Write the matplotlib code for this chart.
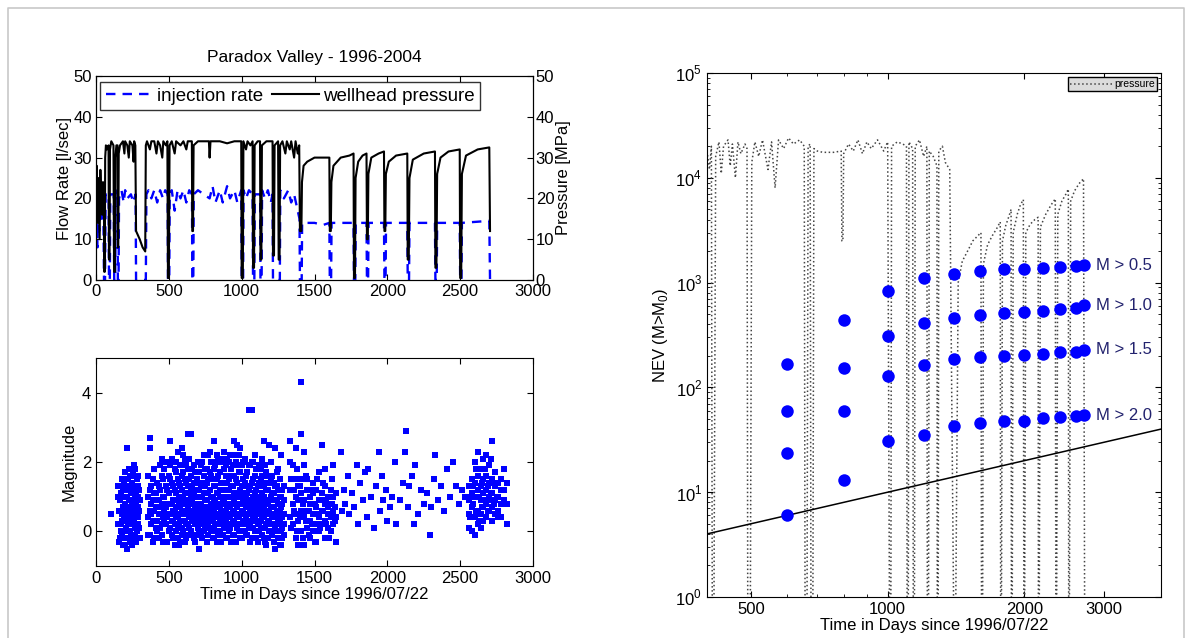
import numpy as np
import matplotlib
matplotlib.use("Agg")
import matplotlib.pyplot as plt
from matplotlib.lines import Line2D
from matplotlib.ticker import FixedLocator, NullFormatter, LogLocator

plt.rcParams['font.family'] = ['Liberation Sans', 'DejaVu Sans']
plt.rcParams['font.size'] = 12
plt.rcParams['mathtext.fontset'] = 'custom'
plt.rcParams['mathtext.rm'] = 'Liberation Sans'
plt.rcParams['xtick.direction'] = 'in'
plt.rcParams['ytick.direction'] = 'in'

# ---- wellhead pressure [MPa] (top left, black)
p_days = [0, 5, 10, 15, 20, 25, 30, 35, 42, 48, 55, 57, 60, 63, 68, 75, 86, 89, 93, 96,
          105, 120, 124, 130, 133, 140, 148, 150, 153, 156, 165, 185, 195, 200, 215, 225, 232, 250,
          258, 262, 270, 275, 300, 320, 338, 342, 350, 370, 380, 400, 415, 425, 440, 455, 462,
          480, 490, 494, 500, 505, 520, 540, 550, 580, 600, 620, 630, 658, 661, 666, 670,
          700, 775, 780, 786, 850, 900, 950, 997, 1000, 1008, 1012, 1030, 1040, 1060, 1075,
          1078, 1085, 1089, 1110, 1126, 1129, 1135, 1139, 1170, 1212, 1215, 1222, 1226, 1250,
          1254, 1260, 1264, 1280, 1300, 1310, 1330, 1340, 1360, 1370, 1385, 1395, 1400, 1410,
          1414, 1425, 1450, 1500, 1560, 1602, 1605, 1612, 1616, 1630, 1680, 1740, 1768, 1771,
          1778, 1782, 1800, 1830, 1857, 1860, 1866, 1870, 1890, 1940, 1977, 1980, 1986, 1990,
          2010, 2060, 2137, 2140, 2147, 2152, 2175, 2250, 2327, 2330, 2337, 2342, 2365, 2420,
          2497, 2500, 2507, 2512, 2540, 2620, 2700, 2705]
p_vals = [22, 28, 14, 25, 18, 10, 27, 20, 16, 24, 15, 2, 2, 30, 33, 32, 33, 5, 5, 32,
          34, 33, 2, 2, 30, 33, 33, 8, 8, 31, 33, 34, 31, 34, 33, 30, 34, 33,
          29, 34, 33, 12, 10, 8, 7, 33, 34, 32, 34, 34, 31, 34, 33, 30, 34,
          33, 34, 0.5, 0.5, 33, 34, 31, 34, 33, 34, 32, 34, 34, 12, 12, 33,
          34, 34, 30, 34, 34, 33.5, 34, 34, 0.5, 0.5, 34, 32, 34, 33, 34,
          3, 3, 33, 34, 34, 5, 5, 33, 34, 34, 6, 6, 33, 34,
          5, 5, 33, 34, 31, 34, 32, 34, 30, 34, 31, 33, 12, 12,
          24, 28, 29, 30, 30, 30, 12, 12, 24, 28, 30, 30.5, 31, 0.5,
          0.5, 25, 29, 30.5, 31, 10, 10, 26, 30, 31, 31.5, 12, 12, 26,
          29, 30.5, 31, 5, 5, 25, 29.5, 31, 31.5, 3, 3, 26, 30, 31.5,
          32, 0.5, 0.5, 26, 30.5, 32, 32.5, 12]

# ---- injection rate [l/sec] (top left, blue dashed)
q_days = [0, 5, 10, 15, 22, 30, 40, 50, 55, 62, 66, 87, 89, 95, 98, 122, 125, 132, 135, 148,
          150, 155, 158, 175, 190, 200, 215, 240, 255, 272, 275, 342, 346, 360, 380, 400, 420,
          440, 460, 475, 492, 494, 503, 506, 520, 540, 560, 580, 600, 620, 640, 659, 661, 668,
          671, 700, 740, 780, 800, 820, 850, 870, 900, 920, 950, 970, 997, 1000, 1010, 1013,
          1030, 1050, 1075, 1078, 1087, 1090, 1127, 1129, 1137, 1140, 1160, 1180, 1200, 1212,
          1215, 1262, 1265, 1290, 1320, 1340, 1360, 1385, 1397, 1400, 1412, 1415, 1500, 1560,
          1602, 1605, 1614, 1617, 1700, 1768, 1771, 1780, 1783, 1857, 1860, 1868, 1871, 1977,
          1980, 1988, 1991, 2137, 2140, 2149, 2152, 2327, 2330, 2339, 2342, 2497, 2500, 2509,
          2512, 2700, 2705]
q_vals = [10, 18, 8, 20, 12, 21, 15, 20, 0, 0, 21, 21, 0, 0, 21, 21, 0, 0, 22, 21,
          0, 0, 20, 22, 19, 22, 20, 21, 19, 21, 0, 0, 21, 22, 20, 22, 19,
          22, 20, 22, 21, 0, 0, 21, 22, 17, 22, 20, 22, 19, 22, 21, 0, 0,
          21, 22, 21, 20, 23, 19, 22, 19, 23, 20, 22, 19, 22, 0, 0, 22,
          20, 22, 21, 0, 0, 21, 21, 0, 0, 22, 20, 22, 19, 21,
          0, 0, 22, 20, 22, 19, 21, 17, 15, 0, 0, 14, 14, 13.5,
          14, 0, 0, 14, 14, 14, 0, 0, 14, 14, 0, 0, 14, 14,
          0, 0, 14, 14, 0, 0, 14, 14, 0, 0, 14, 14, 0, 0,
          14, 14.5, 0]

# ---- event magnitudes (bottom left)
m_days = [100, 150, 155, 160, 165, 170, 175, 180, 185, 190, 195, 200, 200, 205, 210, 210, 215, 215,
          220, 220, 225, 225, 230, 230, 235, 235, 240, 240, 245, 245, 250, 250, 255, 255, 260, 260,
          265, 265, 270, 270, 275, 275, 280, 280, 285, 290, 290, 295, 300, 300, 160, 170, 180, 190,
          200, 210, 220, 230, 240, 250, 260, 270, 280, 290, 185, 245, 265, 235, 175, 205,
          370, 370, 370, 370, 370, 390, 390, 390, 390, 410, 410, 410, 430, 430, 430, 430,
          450, 450, 450, 450, 450, 470, 470, 470, 470, 490, 490, 490, 490,
          510, 510, 510, 510, 510, 530, 530, 530, 530, 530, 550, 550, 550, 550, 550, 550,
          570, 570, 570, 570, 570, 570, 590, 590, 590, 590, 590, 590, 590,
          610, 610, 610, 610, 610, 610, 610, 630, 630, 630, 630, 630, 630, 630,
          650, 650, 650, 650, 650, 650, 650, 670, 670, 670, 670, 670, 670, 670,
          690, 690, 690, 690, 690, 690, 690, 710, 710, 710, 710, 710, 710, 710,
          730, 730, 730, 730, 730, 730, 730, 750, 750, 750, 750, 750, 750, 750,
          770, 770, 770, 770, 770, 770, 770, 790, 790, 790, 790, 790, 790, 790,
          810, 810, 810, 810, 810, 810, 810, 810, 830, 830, 830, 830, 830, 830, 830,
          850, 850, 850, 850, 850, 850, 850, 870, 870, 870, 870, 870, 870, 870,
          890, 890, 890, 890, 890, 890, 890, 890, 910, 910, 910, 910, 910, 910, 910,
          930, 930, 930, 930, 930, 930, 930, 950, 950, 950, 950, 950, 950, 950, 950,
          970, 970, 970, 970, 970, 970, 970, 990, 990, 990, 990, 990, 990, 990,
          1010, 1010, 1010, 1010, 1010, 1010, 1010, 1030, 1030, 1030, 1030, 1030, 1030, 1030,
          1050, 1050, 1050, 1050, 1050, 1050, 1070, 1070, 1070, 1070, 1070, 1070, 1070,
          1090, 1090, 1090, 1090, 1090, 1090, 1110, 1110, 1110, 1110, 1110, 1110,
          1130, 1130, 1130, 1130, 1130, 1130, 1150, 1150, 1150, 1150, 1150, 1150,
          1170, 1170, 1170, 1170, 1170, 1170, 1190, 1190, 1190, 1190, 1190, 1190,
          1210, 1210, 1210, 1210, 1210, 1210, 1230, 1230, 1230, 1230, 1230, 1230,
          1250, 1250, 1250, 1250, 1250, 1250, 1270, 1270, 1270, 1270, 1270, 1270,
          1290, 1290, 1290, 1290, 1290,
          1330, 1330, 1330, 1330, 1350, 1350, 1350, 1370, 1370, 1370, 1370, 1370,
          1390, 1390, 1390, 1390, 1410, 1410, 1410, 1410, 1410, 1410, 1430, 1430, 1430, 1430, 1430,
          1450, 1450, 1450, 1450, 1470, 1470, 1470, 1470, 1490, 1490, 1490, 1490,
          1510, 1510, 1510, 1510, 1530, 1530, 1530, 1530, 1550, 1550, 1550, 1550,
          1570, 1570, 1570, 1570, 1570, 1590, 1590, 1590, 1590, 1610, 1610, 1610, 1610,
          1630, 1630, 1630, 1630, 1650, 1650, 1650,
          1680, 1690, 1700, 1710, 1730, 1740, 1760, 1770, 1790, 1800, 1810, 1830, 1850, 1860,
          1870, 1890, 1910, 1920, 1940, 1950, 1960, 1970, 1990, 2000, 2020, 2030, 2050, 2060,
          2090, 2110, 2120, 2130, 2140, 2150, 2170, 2180, 2190, 2210, 2230, 2250, 2270, 2290,
          2300, 2320, 2330, 2350, 2370, 2390, 2410, 2430, 2450, 2470, 2490, 2510, 2530,
          2560, 2560, 2560, 2560, 2580, 2580, 2580, 2580, 2600, 2600, 2600, 2600, 2600,
          2620, 2620, 2620, 2620, 2620, 2640, 2640, 2640, 2640, 2640, 2660, 2660, 2660, 2660, 2660,
          2680, 2680, 2680, 2680, 2680, 2700, 2700, 2700, 2700, 2700, 2720, 2720, 2720, 2720, 2720,
          2740, 2740, 2740, 2740, 2760, 2760, 2760, 2760, 2780, 2780, 2780, 2780,
          2800, 2800, 2800, 2820, 2820, 2820]
m_vals = [0.5, 1.3, 0.6, -0.3, 0.9, 0.2, 1.1, -0.1, 0.7, 0.4, 1.4, -0.4, 0.8, 0.1, 2.4, 1.0, -0.5, 0.5,
          1.2, -0.2, 0.3, 0.9, 1.6, 0.0, 0.6, -0.3, 1.1, 0.4, 0.8, -0.1, 1.4, 0.2, 0.7, 1.7, 1.9, -0.2,
          0.5, 1.0, 1.3, 0.1, 0.8, -0.3, 1.5, 0.4, 1.0, 0.2, 0.7, 1.2, 0.9, -0.2, 1.0, 0.6, 0.3, 1.0,
          0.3, 0.0, 0.7, 0.4, 0.9, -0.4, 0.9, 0.6, 0.0, 1.3, -0.4, 1.3, 1.6, 1.2, 0.0, 0.6,
          0.6, 1.2, -0.1, 2.7, 2.4, 0.3, 0.9, 1.5, -0.3, 0.7, 0.1, 1.1, 0.5, 1.3, -0.2, 0.9,
          0.2, 0.8, 2.1, 1.6, -0.1, 0.6, 1.0, 0.3, 1.8, 0.4, 1.2, -0.3, 0.8,
          2.6, 0.5, 1.5, 0.1, 1.9, 0.9, 0.3, 1.3, -0.2, 0.6, 0.4, 1.1, 0.0, 1.7, 0.7, 2.0,
          0.2, 0.8, 1.4, -0.4, 0.5, 1.0, 0.6, 1.2, 0.1, 2.4, 0.9, -0.1, 1.6,
          0.3, 0.8, 1.5, -0.3, 1.1, 0.5, 2.1, 2.8, 0.7, 0.2, 1.3, 0.9, 1.8, -0.1,
          2.8, 0.4, 1.0, 0.6, 1.6, 0.0, 1.2, 0.3, 0.8, 1.4, 0.5, -0.2, 1.1, 1.9,
          0.6, 0.2, 1.0, 1.5, 0.4, 0.8, -0.1, 0.3, 0.7, 1.2, -0.5, 0.5, 1.7, 0.0,
          0.4, 1.0, 0.2, 1.4, 0.7, 2.0, -0.2, 0.5, 0.1, 0.9, 1.3, 0.3, 1.8, 0.6,
          0.2, 0.7, 1.1, 2.2, 0.4, -0.1, 1.5, 0.6, 0.0, 1.0, 1.6, 0.3, 0.8, 2.0,
          2.6, 0.4, 0.9, 1.3, -0.2, 0.6, 1.8, 0.1, 0.5, 1.1, 0.2, 1.5, 0.8, -0.3, 2.2,
          0.3, 0.7, 1.2, 0.0, 1.7, 0.5, 1.0, 0.4, 0.9, 1.4, -0.1, 0.6, 2.1, 0.2,
          0.6, 0.1, 1.0, 1.6, 0.3, 0.8, 1.9, -0.2, 0.4, 1.2, 0.7, 2.0, 0.0, 1.5, 0.5,
          0.2, 0.8, 1.3, 0.5, 1.8, -0.3, 1.0, 2.6, 0.6, 1.1, 0.3, 1.6, 0.9, -0.1, 2.2,
          0.4, 1.0, 0.1, 1.4, 0.7, 1.9, 2.5, 2.4, 0.5, 1.2, 0.2, 0.8, 1.7, -0.2,
          0.3, 0.9, 1.5, 0.6, 0.0, 1.1, 2.0, 0.4, 1.0, 0.2, 1.6, 0.7, -0.1, 1.3,
          3.5, 0.5, 1.2, 0.1, 0.8, 1.9, 3.5, 0.3, 0.9, 1.4, 0.6, -0.2, 2.0,
          0.4, 1.1, 0.0, 1.6, 0.7, 2.2, 0.5, 1.0, 0.2, 1.3, -0.3, 0.8,
          0.3, 0.9, 1.5, 0.1, 0.6, 1.8, 2.6, 0.4, 1.0, -0.2, 0.7, 1.3,
          0.5, 0.2, 1.2, 0.8, 1.7, -0.4, 2.5, 0.3, 0.9, 0.0, 1.4, 0.6,
          0.4, 1.1, -0.1, 0.7, 1.6, 0.2, 0.5, 0.1, 0.9, 1.3, -0.5, 2.4,
          0.3, 0.8, 1.2, -0.2, 0.6, 1.8, 2.2, 0.4, 1.0, 0.0, 0.7, -0.4,
          0.5, 1.3, 0.2, 0.9, -0.1,
          2.6, 0.4, 1.2, 2.0, 0.8, 1.9, 0.2, 2.4, 1.0, 0.5, -0.2, 1.5,
          0.3, 0.9, 1.3, -0.4, 4.3, 2.8, 0.6, 1.1, 0.0, 1.5, 0.4, 0.9, 1.9, -0.4, 2.3,
          0.6, 1.2, 0.1, 1.5, 0.3, 0.8, -0.2, 1.0, 0.5, 1.1, 0.0, 1.4,
          0.2, 0.7, 1.2, -0.3, 0.4, 0.9, 0.0, 1.7, 2.5, 0.6, 1.1, 0.2,
          0.3, 0.8, 1.8, -0.2, 1.3, 0.5, 0.1, 1.0, 0.7, 0.4, 1.2, 0.0, 0.8,
          0.2, 0.6, 1.9, 1.0, 0.4, -0.3, 1.1,
          2.3, 0.6, 1.2, 0.8, 1.6, 0.5, 1.1, 0.7, 1.9, 0.2, 1.4, 0.9, 1.7, 0.4,
          1.8, 1.0, 0.1, 1.3, 2.3, 0.6, 1.6, 0.9, 1.2, 0.3, 0.7, 1.0, 2.0, 0.2,
          0.9, 1.4, 2.3, 2.9, 0.7, 1.3, 1.6, 0.2, 1.9, 0.5, 1.2, 0.8, 1.1, -0.1,
          0.7, 1.5, 2.2, 0.9, 1.3, 0.6, 1.8, 1.0, 2.0, 1.3, 0.8, 1.2, 1.0,
          0.1, 0.9, 1.3, 0.5, 1.5, 0.7, 0.0, 1.1, -0.1, 1.0, 0.4, 1.4, 2.0,
          0.6, 1.2, 0.2, 1.6, 2.3, 0.9, 1.3, 0.5, 1.8, 0.1, 1.1, 0.7, 1.5, 2.1, 0.3,
          0.8, 1.2, 0.4, 1.6, 2.2, 1.0, 0.6, 1.4, 1.9, 0.9, 0.7, 1.1, 0.3, 1.5, 2.6,
          0.9, 1.3, 0.5, 1.7, 0.6, 1.0, 1.4, 0.4, 1.2, 0.8, 1.5, 0.4,
          1.8, 0.9, 1.2, 0.2, 0.8, 1.4]

# more events in the dense clusters
m_days2 = [152, 152, 168, 168, 178, 178, 188, 188, 198, 198, 208, 208, 218, 218, 228, 228,
           238, 238, 248, 248, 258, 258, 268, 268, 278, 278, 288, 288, 298, 298,
           360, 360, 360, 360, 380, 380, 380, 380, 400, 400, 400, 400, 420, 420, 420, 420,
           440, 440, 440, 440, 460, 460, 460, 460, 480, 480, 480, 480, 500, 500, 500, 500,
           520, 520, 520, 520, 520, 540, 540, 540, 540, 540,
           560, 560, 560, 560, 560, 560, 580, 580, 580, 580, 580, 580,
           600, 600, 600, 600, 600, 600, 620, 620, 620, 620, 620, 620,
           640, 640, 640, 640, 640, 640, 660, 660, 660, 660, 660, 660,
           680, 680, 680, 680, 680, 680, 700, 700, 700, 700, 700, 700,
           720, 720, 720, 720, 720, 720, 740, 740, 740, 740, 740, 740,
           760, 760, 760, 760, 760, 760, 780, 780, 780, 780, 780, 780,
           800, 800, 800, 800, 800, 800, 820, 820, 820, 820, 820, 820,
           840, 840, 840, 840, 840, 840, 860, 860, 860, 860, 860, 860,
           880, 880, 880, 880, 880, 880, 900, 900, 900, 900, 900, 900,
           920, 920, 920, 920, 920, 920, 940, 940, 940, 940, 940, 940,
           960, 960, 960, 960, 960, 960, 980, 980, 980, 980, 980, 980,
           1000, 1000, 1000, 1000, 1000, 1000, 1020, 1020, 1020, 1020, 1020, 1020,
           1040, 1040, 1040, 1040, 1040, 1040, 1060, 1060, 1060, 1060, 1060, 1060,
           1080, 1080, 1080, 1080, 1080, 1080, 1100, 1100, 1100, 1100, 1100, 1100,
           1120, 1120, 1120, 1120, 1120, 1120, 1140, 1140, 1140, 1140, 1140, 1140,
           1160, 1160, 1160, 1160, 1160, 1160, 1180, 1180, 1180, 1180, 1180, 1180,
           1200, 1200, 1200, 1200, 1200, 1200, 1220, 1220, 1220, 1220, 1220, 1220,
           1240, 1240, 1240, 1240, 1240, 1240, 1260, 1260, 1260, 1260, 1260, 1260,
           1280, 1280, 1280, 1280, 1280,
           1340, 1340, 1360, 1360, 1380, 1380, 1400, 1400, 1420, 1420, 1440, 1440,
           1460, 1460, 1480, 1480, 1500, 1500, 1520, 1520, 1540, 1540, 1560, 1560,
           1580, 1580, 1600, 1600, 1620, 1620, 1640, 1640,
           2570, 2570, 2590, 2590, 2610, 2610, 2630, 2630, 2650, 2650, 2670, 2670,
           2690, 2690, 2710, 2710, 2730, 2730, 2750, 2750]
m_vals2 = [0.2, 1.0, 1.3, -0.2, 0.5, 1.5, 0.0, 1.2, 0.6, 1.7, -0.2, 1.3, 0.2, 1.5, 0.6, 1.8,
           -0.1, 0.9, 0.5, 1.6, 0.3, 1.2, -0.1, 1.8, 0.6, 1.1, 0.4, 1.6, 0.1, 0.6,
           0.4, 1.0, -0.1, 1.6, 0.2, 0.8, 1.3, 0.5, 0.6, 1.1, -0.2, 1.8, 0.3, 0.9, 1.4, 0.0,
           0.7, 1.2, 0.1, 1.9, 0.4, 1.0, -0.3, 1.5, 0.2, 0.7, 1.3, 2.0, 0.5, 1.1, 0.0, 1.6,
           0.3, 0.8, 1.4, -0.1, 2.1, 0.6, 1.2, 0.2, 1.8, -0.4,
           0.4, 0.9, 1.5, 0.1, 2.3, -0.2, 0.7, 1.3, 0.3, 1.9, -0.3, 1.0,
           0.5, 1.0, 0.0, 1.7, 2.2, 0.3, 0.2, 0.9, 1.4, -0.2, 0.6, 1.9,
           0.4, 1.1, 0.1, 1.5, 2.1, 0.8, 0.6, 1.3, -0.1, 0.9, 1.8, 0.3,
           0.2, 0.7, 1.2, 1.7, -0.3, 0.5, 0.5, 1.0, 1.4, 0.1, 2.0, 0.8,
           0.3, 0.8, 1.3, 1.9, -0.1, 0.6, 0.6, 1.1, 0.0, 1.6, 2.2, 0.4,
           0.2, 0.9, 1.4, -0.3, 0.5, 1.8, 0.4, 1.2, 0.1, 1.7, 2.3, 0.7,
           0.6, 1.0, -0.2, 1.5, 0.3, 2.0, 0.2, 0.7, 1.3, 1.9, 0.0, 0.9,
           0.5, 1.1, -0.1, 1.6, 2.1, 0.4, 0.3, 0.8, 1.4, 2.0, -0.3, 0.6,
           0.6, 1.2, 0.1, 1.8, 2.3, 0.9, 0.2, 0.7, 1.4, -0.2, 0.5, 2.1,
           0.4, 1.0, 1.6, 0.1, 2.2, 0.7, 0.6, 1.3, -0.1, 1.9, 0.3, 1.0,
           0.2, 0.8, 1.5, 2.0, -0.3, 0.5, 0.4, 1.1, 0.0, 1.7, 2.2, 0.8,
           0.6, 1.3, 0.2, 1.9, -0.2, 1.0, 0.3, 0.8, 1.4, 2.1, 0.0, 0.5,
           0.5, 1.1, -0.1, 1.7, 0.3, 0.9, 0.2, 0.7, 1.3, 1.9, -0.3, 0.6,
           0.4, 1.0, 0.1, 1.5, 2.0, 0.8, 0.6, 1.2, -0.2, 1.8, 0.3, 0.9,
           0.2, 0.7, 1.4, 0.0, 1.9, 0.5, 0.4, 1.1, -0.1, 1.6, 0.8, 2.1,
           0.6, 0.9, 0.1, 1.4, -0.3, 1.9, 0.3, 0.8, 1.2, -0.2, 0.5, 1.6,
           0.5, 1.0, 0.0, 1.5, 0.7, 2.0, 0.2, 0.7, 1.1, -0.3, 0.4, 1.4,
           0.4, 0.9, 0.0, 1.3, 0.6, 1.7, 0.2, 0.6, 1.0, -0.4, 0.3, 1.5,
           0.4, 0.8, -0.2, 1.2, 0.1,
           0.1, 1.5, 0.6, 1.2, 0.0, 1.8, 0.4, 1.3, 0.8, -0.2, 0.3, 1.6,
           0.6, -0.1, 0.2, 1.2, 0.8, -0.3, 0.5, 1.5, 0.1, 0.9, 0.6, 1.4,
           0.2, 0.9, 0.5, -0.2, 0.8, 1.5, 0.3, 0.7,
           1.0, 0.4, 1.3, 0.8, 0.6, 1.8, 1.0, 0.3, 1.4, 0.7, 0.9, 1.8,
           0.6, 1.3, 1.1, 2.1, 0.8, 1.4, 1.0, 0.5]

# ---- right panel: scaled pressure (dotted) on log axes
r_days = [400, 405, 409, 411, 414, 418, 425, 430, 435, 445, 450, 455, 462, 468, 475, 485, 490,
          492, 498, 502, 510, 520, 530, 545, 555, 565, 575, 590, 605, 620, 640, 655, 658, 664,
          668, 675, 678, 684, 688, 700, 720, 760, 790, 793, 797, 800, 820, 840, 860, 880, 900,
          920, 950, 980, 1000, 1010, 1016, 1020, 1050, 1080, 1100, 1104, 1110, 1114, 1135, 1139,
          1145, 1150, 1175, 1200, 1220, 1223, 1230, 1235, 1260, 1284, 1286, 1292, 1296, 1320,
          1340, 1370, 1400, 1410, 1430, 1460, 1500, 1540, 1580, 1605, 1610, 1618, 1625, 1660,
          1700, 1740, 1770, 1774, 1780, 1790, 1820, 1850, 1870, 1873, 1880, 1890, 1930, 1960,
          1990, 1995, 2002, 2015, 2060, 2110, 2145, 2148, 2156, 2170, 2230, 2290, 2340, 2347,
          2355, 2370, 2420, 2470, 2500, 2505, 2512, 2530, 2580, 2640, 2700, 2717]
r_vals = [1.8e4, 1.2e4, 2e4, 0.3, 0.3, 1.6e4, 2.2e4, 1.1e4, 2.0e4, 2.3e4, 1.3e4, 2.1e4, 1.0e4,
          2.2e4, 1.7e4, 2.1e4, 1.9e4, 0.3, 0.3, 1.4e4, 2.2e4, 1.6e4, 2.3e4, 1.2e4, 2.2e4, 0.8e4,
          2.3e4, 1.9e4, 2.4e4, 2.1e4, 2.3e4, 2.0e4, 0.3, 0.3, 2.0e4, 2.1e4, 0.3, 0.3, 1.9e4,
          1.8e4, 1.75e4, 1.75e4, 1.8e4, 2.5e3, 2.5e3, 1.7e4, 2.1e4, 1.8e4, 2.3e4, 1.7e4, 2.2e4,
          1.9e4, 2.3e4, 1.8e4, 2.2e4, 0.3, 0.3, 2.0e4, 2.2e4, 2.1e4, 2.0e4, 0.3, 0.3, 2.2e4,
          1.9e4, 0.3, 0.3, 2.0e4, 2.3e4, 1.6e4, 2.0e4, 0.3, 0.3, 1.8e4, 1.6e4, 1.3e4, 0.3, 0.3,
          1.8e4, 2.0e4, 1.4e4, 1.2e4, 0.3, 0.3, 1.0e3, 1.6e3, 2.0e3, 2.5e3, 2.8e3, 3.0e3, 0.3,
          0.3, 1.5e3, 2.3e3, 2.8e3, 3.3e3, 3.8e3, 0.3, 0.3, 2.5e3, 3.5e3, 4.3e3, 5.0e3, 0.3,
          0.3, 3.0e3, 4.5e3, 5.5e3, 6.2e3, 0.3, 0.3, 3.0e3, 3.6e3, 4.0e3, 4.2e3, 0.3, 0.3,
          3.4e3, 4.5e3, 5.5e3, 6.3e3, 0.3, 0.3, 4.5e3, 6.0e3, 7.0e3, 7.8e3, 0.3, 0.3, 6.0e3,
          7.5e3, 8.8e3, 9.8e3, 0.3]

# ---- cumulative number of events above magnitude thresholds
nev_days = [600, 800, 1000, 1200, 1400, 1600, 1800, 2000, 2200, 2400, 2600, 2700]
nev_m05 = [169, 435, 838, 1097, 1212, 1279, 1350, 1350, 1382, 1414, 1436, 1458]
nev_m10 = [59, 152, 310, 412, 464, 489, 508, 528, 536, 557, 578, 607]
nev_m15 = [23.5, 60, 128, 165, 185, 196, 200, 205, 208, 216, 220, 228]
nev_m20 = [6, 13, 31, 35, 43, 46, 48, 48, 51, 52, 53, 54]
nev_labels = ['M > 0.5', 'M > 1.0', 'M > 1.5', 'M > 2.0']
ref_days = [400, 4000]
ref_vals = [4.0, 40.0]

W, H = 1192, 638
fig = plt.figure(figsize=(W / 100, H / 100), dpi=100)
# light grey frame round the picture (no visible bottom edge)
fig.add_artist(Line2D([8 / W, 8 / W, 1184 / W, 1184 / W], [0, 1 - 8 / H, 1 - 8 / H, 0],
                      transform=fig.transFigure, color='#c8c8c8', linewidth=1.2))


def px_axes(l, t, r, b):
    return fig.add_axes([l / W, 1 - b / H, (r - l) / W, (b - t) / H])


# top left: injection / pressure
ax1 = px_axes(96, 76, 533, 280)
l1, = ax1.plot(q_days, q_vals, color='#0000ff', linestyle='--', linewidth=1.7, dashes=(4, 3))
ax1.set_xlim(0, 3000)
ax1.set_ylim(0, 50)
ax1.set_xticks(range(0, 3001, 500))
ax1.set_yticks(range(0, 51, 10))
ax1.set_ylabel('Flow Rate [l/sec]', labelpad=1)
ax1.tick_params(top=True, right=False, length=4, pad=3)
ax1.set_title('Paradox Valley - 1996-2004', fontsize=12.5, pad=10)
ax2 = ax1.twinx()
l2, = ax2.plot(p_days, p_vals, color='black', linewidth=1.5)
ax2.set_ylim(0, 50)
ax2.set_yticks(range(0, 51, 10))
ax2.set_ylabel('Pressure [MPa]', labelpad=1)
ax2.tick_params(length=4, pad=2)
leg = ax1.legend([l1, l2], ['injection rate', 'wellhead pressure'], ncol=2, loc='upper left',
                 bbox_to_anchor=(0.01, 0.97), fancybox=False, edgecolor='black',
                 handlelength=2.5, columnspacing=0.5, handletextpad=0.2, borderpad=0.3,
                 borderaxespad=0.0, fontsize=13.5)
leg.get_frame().set_linewidth(1.0)

# bottom left: magnitudes
ax3 = px_axes(96, 358, 533, 566)
ax3.plot(m_days + m_days2, m_vals + m_vals2, linestyle='none', marker='s', markersize=3.8,
         color='#0000ff', markeredgewidth=0)
ax3.set_xlim(0, 3000)
ax3.set_ylim(-1, 5)
ax3.set_xticks(range(0, 3001, 500))
ax3.set_yticks([0, 2, 4])
ax3.set_ylabel('Magnitude')
ax3.set_xlabel('Time in Days since 1996/07/22', labelpad=1)
ax3.tick_params(top=True, right=True, length=4)

# right: NEV vs time
ax4 = px_axes(707, 73, 1161, 597)
ax4.set_xscale('log')
ax4.set_yscale('log')
lp, = ax4.plot(r_days, r_vals, color='#444444', linestyle=':', linewidth=1.1)
ax4.plot(ref_days, ref_vals, color='black', linewidth=1.1)
for vals, lab in zip([nev_m05, nev_m10, nev_m15, nev_m20], nev_labels):
    ax4.plot(nev_days, vals, linestyle='none', marker='o', markersize=9, color='#0000ff',
             markeredgewidth=0)
    ax4.text(2870, vals[-1], lab, color='#22226e', fontsize=12, va='center', ha='left')
ax4.set_xlim(400, 4000)
ax4.set_ylim(1, 1e5)
ax4.xaxis.set_major_locator(FixedLocator([500, 1000, 2000, 3000]))
ax4.set_xticklabels(['500', '1000', '2000', '3000'])
ax4.xaxis.set_minor_locator(FixedLocator([400, 600, 700, 800, 900, 4000]))
ax4.xaxis.set_minor_formatter(NullFormatter())
ax4.set_yticks([1, 10, 100, 1e3, 1e4, 1e5])
ax4.set_yticklabels([r'$10^{0}$', r'$10^{1}$', r'$10^{2}$', r'$10^{3}$', r'$10^{4}$', r'$10^{5}$'])
ax4.yaxis.set_minor_locator(LogLocator(base=10, subs=range(2, 10)))
ax4.yaxis.set_minor_formatter(NullFormatter())
ax4.tick_params(which='both', top=True, right=True)
ax4.tick_params(which='major', length=4)
ax4.tick_params(which='minor', length=2)
ax4.set_xlabel('Time in Days since 1996/07/22', labelpad=1)
ax4.set_ylabel(r'NEV (M>M$_{0}$)')
lg = ax4.legend([lp], ['pressure'], loc='upper right', fontsize=7.5, fancybox=False,
                edgecolor='black', facecolor='#dcdcdc', framealpha=1, handlelength=4,
                handletextpad=0.2, borderpad=0.2, borderaxespad=0.4)

fig.savefig('out.png', dpi=100)
